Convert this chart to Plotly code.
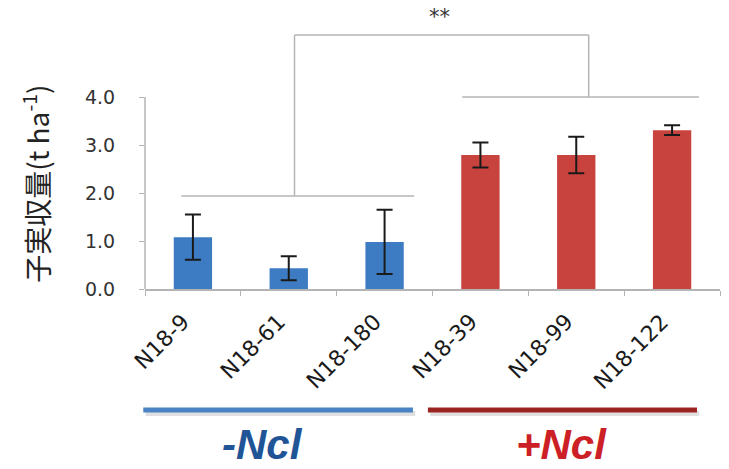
import plotly.graph_objects as go

# ---- data ----
categories = ["N18-9", "N18-61", "N18-180", "N18-39", "N18-99", "N18-122"]
yield_values = [1.08, 0.43, 0.98, 2.79, 2.79, 3.31]
yield_errors = [0.47, 0.25, 0.67, 0.26, 0.38, 0.10]
groups = ["-Ncl", "-Ncl", "-Ncl", "+Ncl", "+Ncl", "+Ncl"]
group_names = ["-Ncl", "+Ncl"]
y_ticks = [0, 1, 2, 3, 4]
y_title = "子実収量(t ha<sup>-1</sup>)"
signif_label = "**"
# bracket levels (data units)
bracket_left_y = 1.94
bracket_right_y = 4.0
bracket_top_y = 5.29

# ---- style ----
BAR_COLORS = {"-Ncl": "#3d7cc3", "+Ncl": "#c8433e"}
LINE_COLORS = {"-Ncl": "#4a82c4", "+Ncl": "#9b2423"}
TEXT_COLORS = {"-Ncl": "#1f5596", "+Ncl": "#cc1f26"}
GRAY = "#b4b4b4"
Y_MAX = 5.917
N = len(categories)

fig = go.Figure()
fig.add_trace(go.Bar(
    x=categories,
    y=yield_values,
    marker=dict(color=[BAR_COLORS[g] for g in groups], line=dict(width=0)),
    width=0.4,
    error_y=dict(type="data", array=yield_errors, visible=True,
                 color="#1a1a1a", thickness=2, width=8),
    showlegend=False,
))

shapes = []
# y axis line from 0 to 4
shapes.append(dict(type="line", xref="paper", yref="paper",
                   x0=0, x1=0, y0=0, y1=max(y_ticks) / Y_MAX,
                   line=dict(color=GRAY, width=1.5)))

def bline(x0, y0, x1, y1):
    shapes.append(dict(type="line", xref="x", yref="y", x0=x0, y0=y0, x1=x1, y1=y1,
                       line=dict(color=GRAY, width=1.5)))

# left group bracket
bline(-0.12, bracket_left_y, 2.31, bracket_left_y)
bline(1.06, bracket_left_y, 1.06, bracket_top_y)
# top bracket
bline(1.06, bracket_top_y, 4.13, bracket_top_y)
bline(4.13, bracket_top_y, 4.13, bracket_right_y)
# right group bracket
bline(2.81, bracket_right_y, 5.28, bracket_right_y)

# group lines below axis (paper coordinates)
line_y = -0.426
group_spans = {"-Ncl": (-0.003, 0.466), "+Ncl": (0.492, 0.96)}
for g in group_names:
    x0, x1 = group_spans[g]
    # soft shadow
    shapes.append(dict(type="line", xref="paper", yref="paper",
                       x0=x0 + 0.004, x1=x1 + 0.004, y0=line_y - 0.012, y1=line_y - 0.012,
                       line=dict(color="rgba(0,0,0,0.12)", width=5)))
    shapes.append(dict(type="line", xref="paper", yref="paper",
                       x0=x0, x1=x1, y0=line_y, y1=line_y,
                       line=dict(color=LINE_COLORS[g], width=5)))

annotations = [
    dict(text=signif_label, xref="x", yref="y", x=2.57, y=5.67, showarrow=False,
         font=dict(size=21, color="#333333", family="DejaVu Sans")),
    dict(text=y_title, xref="paper", yref="paper", x=-0.19, y=0.37, textangle=-90,
         showarrow=False, xanchor="center", yanchor="middle",
         font=dict(size=28, color="#222222", family="Noto Sans CJK JP")),
]
# rotated category labels
for i, c in enumerate(categories):
    annotations.append(dict(text=c, xref="x", yref="paper", x=i + 0.03, y=-0.068,
                            xanchor="right", yanchor="top", textangle=-45,
                            showarrow=False, borderpad=0,
                            font=dict(size=22, color="#1a1a1a", family="DejaVu Sans")))
label_pos = {"-Ncl": 0.204, "+Ncl": 0.724}
for g in group_names:
    annotations.append(dict(text=f"<b><i>{g}</i></b>", xref="paper", yref="paper",
                            x=label_pos[g], y=-0.549, showarrow=False,
                            xanchor="center", yanchor="middle",
                            font=dict(size=42, color=TEXT_COLORS[g], family="Liberation Sans")))

fig.update_layout(
    width=729, height=469,
    margin=dict(l=145, r=9, t=5, b=180, autoexpand=False),
    paper_bgcolor="white", plot_bgcolor="white",
    bargap=0.6,
    shapes=shapes,
    annotations=annotations,
    xaxis=dict(
        type="category", categoryorder="array", categoryarray=categories,
        range=[-0.5, N - 0.5], automargin=False,
        showline=True, linecolor=GRAY, linewidth=1.5,
        ticks="outside", tickson="boundaries", ticklen=5, tickcolor=GRAY,
        showticklabels=False,
        showgrid=False, zeroline=False,
    ),
    yaxis=dict(
        range=[0, Y_MAX], tickvals=y_ticks, tickformat=".1f", automargin=False,
        showline=False, ticks="outside", ticklen=5, tickcolor=GRAY,
        ticklabelstandoff=20,
        tickfont=dict(size=19, color="#333333", family="DejaVu Sans"),
        showgrid=False, zeroline=False,
    ),
)

fig.write_html("out.html", config={"displayModeBar": False},
               post_script="document.body.style.margin='0px';")
